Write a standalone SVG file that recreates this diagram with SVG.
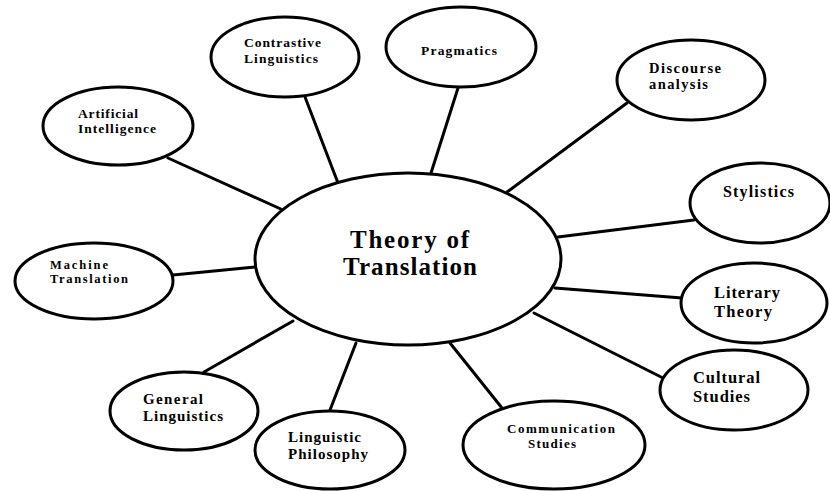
<svg xmlns="http://www.w3.org/2000/svg" width="830" height="491" viewBox="0 0 830 491">
<style>
.n{fill:#fff;stroke:#000;stroke-width:3}
.c line{stroke:#000;stroke-width:3;stroke-linecap:round}
text{font-family:"Liberation Serif","Times New Roman",serif;font-weight:bold;fill:#000}
</style>
<rect width="830" height="491" fill="#fff"/>
<g class="c" id="connectors">
<line x1="305" y1="97" x2="338" y2="183"/>
<line x1="168" y1="158" x2="283" y2="210"/>
<line x1="458" y1="88" x2="431" y2="173"/>
<line x1="627" y1="103" x2="507" y2="192"/>
<line x1="694" y1="220" x2="558" y2="237"/>
<line x1="173" y1="275" x2="255" y2="267"/>
<line x1="204" y1="372" x2="293" y2="321"/>
<line x1="330" y1="410" x2="356" y2="343"/>
<line x1="555" y1="288" x2="682" y2="298"/>
<line x1="534" y1="313" x2="663" y2="378"/>
<line x1="450" y1="343" x2="502" y2="408"/>
</g>
<g id="center">
<ellipse class="n" cx="408" cy="259" rx="153" ry="86"/>
<text x="350" y="248" font-size="25" textLength="119" lengthAdjust="spacing">Theory of</text>
<text x="343" y="275" font-size="25" textLength="134" lengthAdjust="spacing">Translation</text>
</g>
<g id="contrastive">
<ellipse class="n" cx="285" cy="57" rx="74" ry="40"/>
<text x="244" y="47" font-size="13.5" textLength="77" lengthAdjust="spacing">Contrastive</text>
<text x="244" y="63" font-size="13.5" textLength="74" lengthAdjust="spacing">Linguistics</text>
</g>
<g id="artificial">
<ellipse class="n" cx="118" cy="126" rx="75" ry="39"/>
<text x="78" y="118" font-size="13.5" textLength="60" lengthAdjust="spacing">Artificial</text>
<text x="78" y="133" font-size="13.5" textLength="78" lengthAdjust="spacing">Intelligence</text>
</g>
<g id="pragmatics">
<ellipse class="n" cx="461" cy="47" rx="75" ry="40"/>
<text x="421" y="55" font-size="13.5" textLength="76" lengthAdjust="spacing">Pragmatics</text>
</g>
<g id="discourse">
<ellipse class="n" cx="691" cy="80" rx="74" ry="40"/>
<text x="649" y="73" font-size="14.5" textLength="72" lengthAdjust="spacing">Discourse</text>
<text x="649" y="89" font-size="14.5" textLength="59" lengthAdjust="spacing">analysis</text>
</g>
<g id="stylistics">
<ellipse class="n" cx="760" cy="203" rx="70" ry="40"/>
<text x="723" y="197" font-size="16" textLength="71" lengthAdjust="spacing">Stylistics</text>
</g>
<g id="machine">
<ellipse class="n" cx="94" cy="281" rx="79" ry="38"/>
<text x="50" y="269" font-size="12.5" textLength="58" lengthAdjust="spacing">Machine</text>
<text x="50" y="283" font-size="12.5" textLength="78" lengthAdjust="spacing">Translation</text>
</g>
<g id="general">
<ellipse class="n" cx="184" cy="411" rx="74" ry="39"/>
<text x="143" y="404" font-size="15" textLength="60" lengthAdjust="spacing">General</text>
<text x="143" y="421" font-size="15" textLength="80" lengthAdjust="spacing">Linguistics</text>
</g>
<g id="philosophy">
<ellipse class="n" cx="330" cy="450" rx="75" ry="39"/>
<text x="288" y="442" font-size="15" textLength="73" lengthAdjust="spacing">Linguistic</text>
<text x="288" y="459" font-size="15" textLength="80" lengthAdjust="spacing">Philosophy</text>
</g>
<g id="literary">
<ellipse class="n" cx="754" cy="303" rx="73" ry="40"/>
<text x="714" y="298" font-size="16.5" textLength="66" lengthAdjust="spacing">Literary</text>
<text x="714" y="317" font-size="16.5" textLength="58" lengthAdjust="spacing">Theory</text>
</g>
<g id="cultural">
<ellipse class="n" cx="734" cy="390" rx="74" ry="40"/>
<text x="693" y="383" font-size="16.5" textLength="67" lengthAdjust="spacing">Cultural</text>
<text x="693" y="402" font-size="16.5" textLength="57" lengthAdjust="spacing">Studies</text>
</g>
<g id="communication">
<ellipse class="n" cx="554" cy="445" rx="91" ry="44"/>
<text x="507" y="433" font-size="13" textLength="108" lengthAdjust="spacing">Communication</text>
<text x="528" y="448" font-size="13" textLength="48" lengthAdjust="spacing">Studies</text>
</g>
</svg>
